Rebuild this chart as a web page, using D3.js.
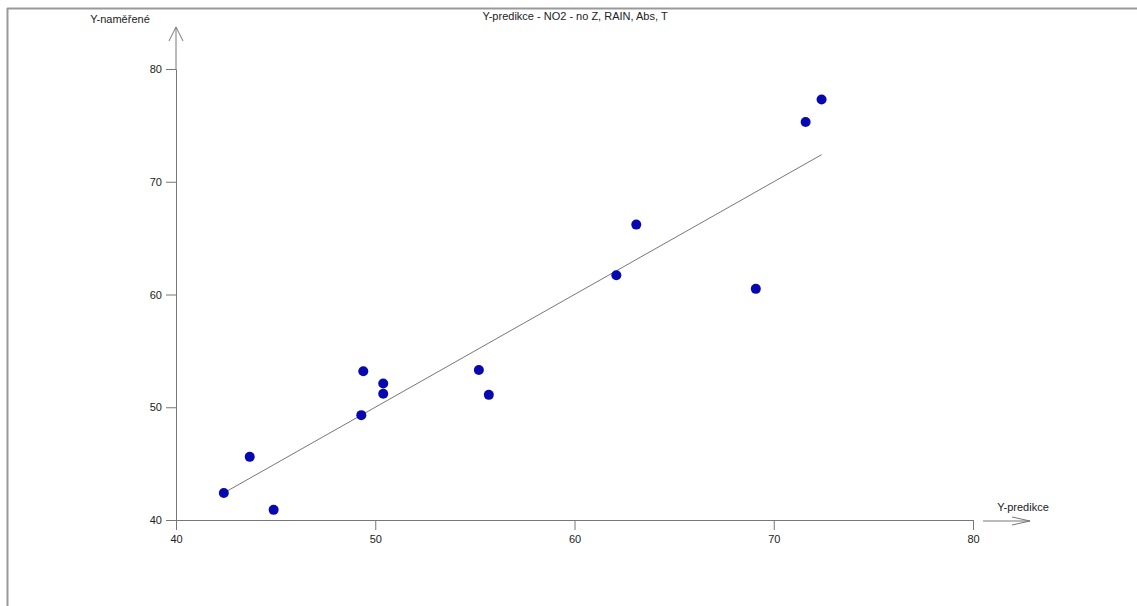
<!DOCTYPE html>
<html>
<head>
<meta charset="utf-8">
<script src="https://cdn.jsdelivr.net/npm/d3@7"></script>
<style>
  html, body { margin: 0; padding: 0; background: #fff; }
  svg { display: block; }
  text { font-family: "Liberation Sans", Arial, sans-serif; font-size: 11px; fill: #222; }
</style>
</head>
<body>
<svg id="chart" width="1137" height="606"></svg>
<script>
// Predicted vs. measured NO2 values
const predicted = [42.4, 43.7, 44.9, 49.3, 49.4, 50.4, 50.4, 55.2, 55.7, 62.1, 63.1, 69.1, 71.6, 72.4];
const measured  = [42.4, 45.6, 40.9, 49.3, 53.2, 52.1, 51.2, 53.3, 51.1, 61.7, 66.2, 60.5, 75.3, 77.3];
const xTicks = [40, 50, 60, 70, 80];
const yTicks = [40, 50, 60, 70, 80];
const titleText = "Y-predikce - NO2 - no Z, RAIN, Abs, T";
const xLabel = "Y-predikce";
const yLabel = "Y-naměřené";

const svg = d3.select("#chart");

// Window frame (top and left edges)
svg.append("line").attr("x1", 7).attr("x2", 1137).attr("y1", 8.5).attr("y2", 8.5)
  .attr("stroke", "#999").attr("stroke-width", 2);
svg.append("line").attr("x1", 7.5).attr("x2", 7.5).attr("y1", 8).attr("y2", 606)
  .attr("stroke", "#999").attr("stroke-width", 2);

const x = d3.scaleLinear().domain([40, 80]).range([176, 973]);
const y = d3.scaleLinear().domain([40, 80]).range([520, 69]);

const axisColor = "#777";

// X axis
const gx = svg.append("g").attr("transform", `translate(0,${y(40)})`)
  .call(d3.axisBottom(x).tickValues(xTicks).tickSize(10).tickPadding(5).tickFormat(d3.format("d")));
gx.select(".domain").attr("stroke", axisColor);
gx.selectAll(".tick line").attr("stroke", axisColor);
gx.selectAll("text").style("font-size", "11px").attr("fill", "#222");

// Y axis
const gy = svg.append("g").attr("transform", `translate(${x(40)},0)`)
  .call(d3.axisLeft(y).tickValues(yTicks).tickSize(10).tickPadding(4).tickFormat(d3.format("d")));
gy.select(".domain").attr("stroke", axisColor);
gy.selectAll(".tick line").attr("stroke", axisColor);
gy.selectAll("text").style("font-size", "11px").attr("fill", "#222");

// Y axis extension and arrow head
svg.append("line").attr("x1", x(40)).attr("x2", x(40)).attr("y1", y(80)).attr("y2", 27)
  .attr("stroke", axisColor);
svg.append("path").attr("d", `M${x(40) - 7},${41} L${x(40)},${27} L${x(40) + 7},${41}`)
  .attr("fill", "none").attr("stroke", axisColor);

// X axis arrow beyond the last tick
const ax = y(40) + 1;
svg.append("line").attr("x1", 983).attr("x2", 1030).attr("y1", ax).attr("y2", ax)
  .attr("stroke", axisColor);
svg.append("path").attr("d", `M1012,${ax - 4} L1030,${ax} L1012,${ax + 4}`)
  .attr("fill", "none").attr("stroke", axisColor);

// Axis titles and chart title
svg.append("text").attr("x", 120).attr("y", 23).attr("text-anchor", "middle").text(yLabel);
svg.append("text").attr("x", 1023).attr("y", 511).attr("text-anchor", "middle").text(xLabel);
svg.append("text").attr("x", 575).attr("y", 20).attr("text-anchor", "middle").text(titleText);

// Ideal fit line y = x across the predicted range
const lo = d3.min(predicted), hi = d3.max(predicted);
svg.append("line")
  .attr("x1", x(lo)).attr("y1", y(lo))
  .attr("x2", x(hi)).attr("y2", y(hi))
  .attr("stroke", "#777").attr("stroke-width", 1);

// Data points
svg.append("g").selectAll("circle")
  .data(predicted.map((p, i) => ({ p, m: measured[i] })))
  .join("circle")
  .attr("cx", d => x(d.p))
  .attr("cy", d => y(d.m))
  .attr("r", 5)
  .attr("fill", "#0808b0");
</script>
</body>
</html>
